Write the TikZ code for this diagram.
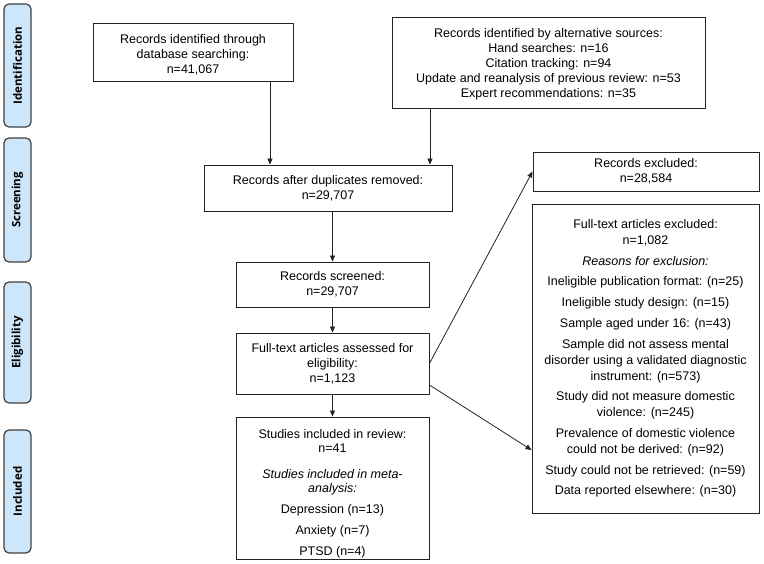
\documentclass[tikz,border=0pt]{standalone}
\usepackage{fontspec}
\setmainfont{Liberation Sans}
\newfontfamily\sidefont{Open Sans}
\usetikzlibrary{arrows.meta}
\definecolor{sideblue}{RGB}{206,230,250}
\definecolor{linegray}{RGB}{35,35,35}
\begin{document}
\begin{tikzpicture}[x=1pt,y=-1pt,
  box/.style={draw=linegray, line width=0.9pt, align=center, inner sep=0pt,
    font=\fontsize{12.5}{15}\selectfont},
  side/.style={draw=black!75, line width=1.2pt, rounded corners=5pt, fill=sideblue,
    minimum height=27pt, inner sep=0pt, rotate=90,
    font=\sidefont\bfseries\fontsize{11.5}{13}\selectfont},
  arr/.style={-{Triangle[length=6pt,width=5pt]}, line width=0.8pt, draw=linegray}]
\fill[white] (0,0) rectangle (764,564);
\useasboundingbox (0,0) rectangle (764,564);

% side labels
\node[side, minimum width=123pt] (sid) at (17.5,65.5) {Identification};
\node[side, minimum width=124pt] (ssc) at (17.5,200) {Screening};
\node[side, minimum width=121pt] (sel) at (17.5,342.5) {Eligibility};
\node[side, minimum width=123pt] (sin) at (17.5,491.5) {Included};

% boxes
\node[box, minimum width=200pt, minimum height=58pt] (db) at (193,52)
  {\rule{0pt}{15pt}Records identified through\\database searching:\\n=41,067};
\node[box, minimum width=313pt, minimum height=91pt] (alt) at (548.5,62.5)
  {\rule{0pt}{13pt}Records identified by alternative sources:\\Hand searches: n=16\\Citation tracking: n=94\\Update and reanalysis of previous review: n=53\\Expert recommendations: n=35};
\node[box, minimum width=248pt, minimum height=46pt] (dup) at (328,188)
  {Records after duplicates removed:\\n=29,707};
\node[box, minimum width=193pt, minimum height=45pt] (scr) at (332.5,284.5)
  {Records screened:\\n=29,707};
\node[box, minimum width=193pt, minimum height=61pt] (full) at (332.5,363.5)
  {Full-text articles assessed for\\eligibility:\\n=1,123};
\node[box, minimum width=193pt, minimum height=142pt, font=\fontsize{12.5}{14}\selectfont] (inc) at (332.5,488)
  {\rule{0pt}{21pt}Studies included in review:\\n=41\\[12pt]\textit{Studies included in meta-}\\\textit{analysis:}\\[7pt]Depression (n=13)\\[7pt]Anxiety (n=7)\\[7pt]PTSD (n=4)};
\node[box, minimum width=226pt, minimum height=39pt] (recex) at (646,171.5)
  {Records excluded:\\n=28,584};
\node[box, minimum width=227pt, minimum height=309pt, font=\fontsize{12.5}{16}\selectfont] (ftex) at (645.5,358.5)
  {Full-text articles excluded:\\n=1,082\\[4.7pt]\textit{Reasons for exclusion:}\\[4.7pt]Ineligible publication format: (n=25)\\[4.7pt]Ineligible study design: (n=15)\\[4.7pt]Sample aged under 16: (n=43)\\[4.7pt]Sample did not assess mental\\disorder using a validated diagnostic\\instrument: (n=573)\\[4.7pt]Study did not measure domestic\\violence: (n=245)\\[4.7pt]Prevalence of domestic violence\\could not be derived: (n=92)\\[4.7pt]Study could not be retrieved: (n=59)\\[4.7pt]Data reported elsewhere: (n=30)};

% arrows
\draw[arr] ([xshift=77pt]db.south) -- ([xshift=77pt]db.south |- dup.north);
\draw[arr] ([xshift=-118.5pt]alt.south) -- ([xshift=-118.5pt]alt.south |- dup.north);
\draw[arr] (dup.south -| scr.north) -- (scr.north);
\draw[arr] (scr.south) -- (full.north);
\draw[arr] (full.south) -- (inc.north);
\draw[arr] (full.east) -- (recex.west);
\draw[arr] ([yshift=-21.5pt]full.east) -- ([yshift=-91.5pt]ftex.west);
\end{tikzpicture}
\end{document}
